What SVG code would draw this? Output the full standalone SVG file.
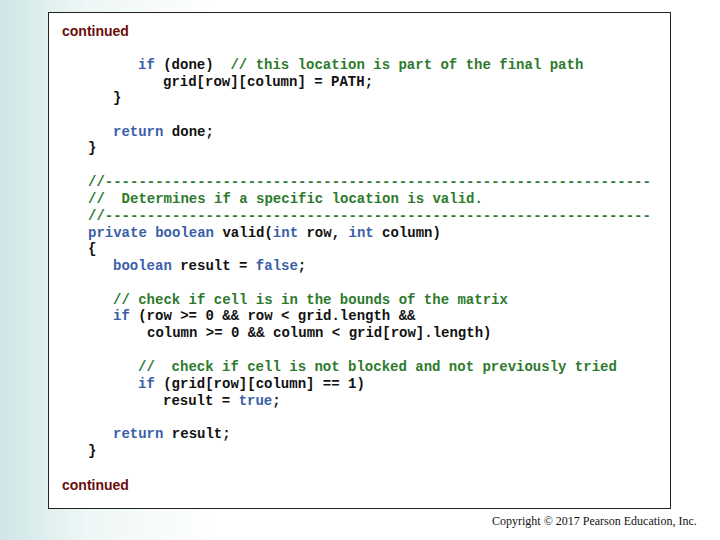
<svg xmlns="http://www.w3.org/2000/svg" width="720" height="540" viewBox="0 0 720 540">
<defs>
<linearGradient id="bg" x1="0" y1="0" x2="1" y2="0">
<stop offset="0" stop-color="#cfe6e6"/><stop offset="0.12" stop-color="#eef6f6"/><stop offset="0.3" stop-color="#ffffff"/>
</linearGradient>
<style>
.c{font-family:"Liberation Mono","Courier New",monospace;font-size:14px;font-weight:bold;fill:#111;white-space:pre}
.k{fill:#3a5fa8}
.m{fill:#2d7a2d}
.t{font-family:"Liberation Sans",Arial,sans-serif;font-size:14px;font-weight:bold;fill:#6b0d0d}
.cp{font-family:"Liberation Serif","Times New Roman",serif;font-size:12px;fill:#111}
</style>
</defs>
<rect width="720" height="540" fill="url(#bg)"/>
<g id="panel">
<rect x="48.5" y="12.5" width="622" height="496" fill="#fff" stroke="#222" stroke-width="1"/>
<text class="t" x="62" y="36">continued</text>
<text class="t" x="62" y="490">continued</text>
</g>
<g id="code">
<text class="c" x="138" y="69"><tspan class="k">if</tspan> (done)  <tspan class="m">// this location is part of the final path</tspan></text>
<text class="c" x="163" y="86">grid[row][column] = PATH;</text>
<text class="c" x="113" y="102">}</text>
<text class="c" x="113" y="136"><tspan class="k">return</tspan> done;</text>
<text class="c" x="88" y="152">}</text>
<text class="c m" x="88" y="186">//-----------------------------------------------------------------</text>
<text class="c m" x="88" y="203">//  Determines if a specific location is valid.</text>
<text class="c m" x="88" y="220">//-----------------------------------------------------------------</text>
<text class="c" x="88" y="237"><tspan class="k">private boolean</tspan> valid(<tspan class="k">int</tspan> row, <tspan class="k">int</tspan> column)</text>
<text class="c" x="88" y="253">{</text>
<text class="c" x="113" y="270"><tspan class="k">boolean</tspan> result = <tspan class="k">false</tspan>;</text>
<text class="c m" x="113" y="304">// check if cell is in the bounds of the matrix</text>
<text class="c" x="113" y="320"><tspan class="k">if</tspan> (row &gt;= 0 &amp;&amp; row &lt; grid.length &amp;&amp;</text>
<text class="c" x="147" y="337">column &gt;= 0 &amp;&amp; column &lt; grid[row].length)</text>
<text class="c m" x="138" y="371">//  check if cell is not blocked and not previously tried</text>
<text class="c" x="138" y="388"><tspan class="k">if</tspan> (grid[row][column] == 1)</text>
<text class="c" x="163" y="405">result = <tspan class="k">true</tspan>;</text>
<text class="c" x="113" y="438"><tspan class="k">return</tspan> result;</text>
<text class="c" x="88" y="455">}</text>
</g>
<text class="cp" x="492" y="525">Copyright © 2017 Pearson Education, Inc.</text>
</svg>
